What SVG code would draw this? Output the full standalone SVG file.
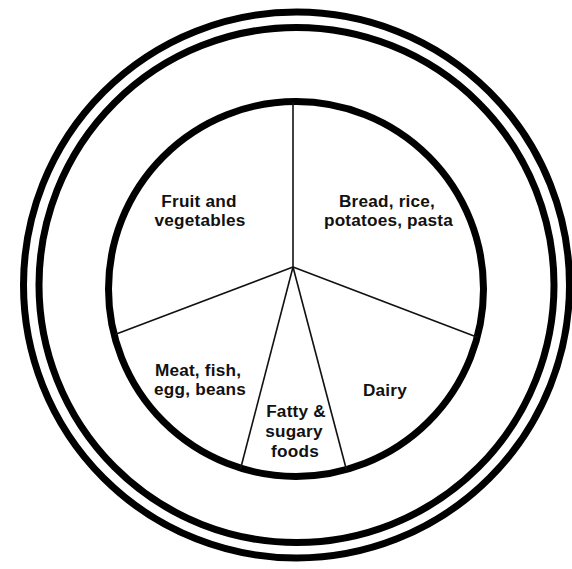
<svg xmlns="http://www.w3.org/2000/svg" width="572" height="569" viewBox="0 0 572 569">
<style>
.ring{fill:none;stroke:#000;stroke-width:7}
.spoke{stroke:#111;stroke-width:1.6;fill:none}
.lbl{font-family:"Liberation Sans",Arial,sans-serif;font-weight:bold;font-size:17.2px;letter-spacing:0.2px;fill:#111;text-anchor:middle}
</style>
<rect width="572" height="569" fill="#fff"/>
<g id="plate">
<circle class="ring" cx="296.5" cy="285" r="273"/>
<circle class="ring" cx="296.5" cy="285" r="257.5"/>
<circle class="ring" cx="296" cy="289" r="187.5" stroke-width="7.5"/>
</g>
<g id="connectors">
<line class="spoke" x1="293" y1="267" x2="293" y2="102"/>
<line class="spoke" x1="293" y1="267" x2="115" y2="334.5"/>
<line class="spoke" x1="293" y1="267" x2="478" y2="337.5"/>
<line class="spoke" x1="293" y1="267" x2="240.5" y2="469"/>
<line class="spoke" x1="293" y1="267" x2="346.5" y2="470"/>
</g>
<g id="fruit-veg"><text class="lbl" x="199" y="207">Fruit and</text><text class="lbl" x="200" y="226">vegetables</text></g>
<g id="bread"><text class="lbl" x="387" y="207">Bread, rice,</text><text class="lbl" x="388.5" y="226">potatoes, pasta</text></g>
<g id="meat"><text class="lbl" x="198" y="376">Meat, fish,</text><text class="lbl" x="200" y="395">egg, beans</text></g>
<g id="dairy"><text class="lbl" x="385" y="396">Dairy</text></g>
<g id="fatty"><text class="lbl" x="296" y="417">Fatty &amp;</text><text class="lbl" x="294" y="437">sugary</text><text class="lbl" x="295" y="457">foods</text></g>
</svg>
